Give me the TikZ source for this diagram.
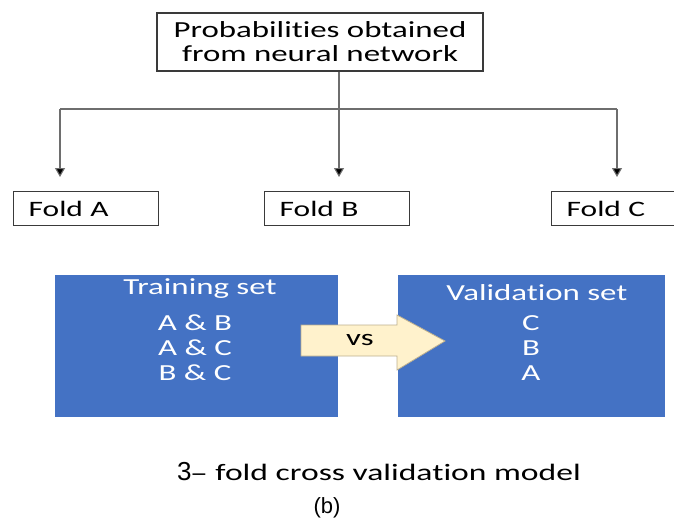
\documentclass[tikz,border=0pt]{standalone}
\usepackage{fontspec}
\setmainfont[FakeStretch=1.43,Ligatures={NoCommon}]{Carlito}
\newfontfamily\arialf{Liberation Sans}
\usetikzlibrary{arrows.meta}
\definecolor{officeblue}{HTML}{4472C4}
\definecolor{arrowfill}{HTML}{FFF2CC}
\definecolor{arrowline}{HTML}{BDB08E}
\definecolor{linegray}{HTML}{6E6E6E}
\definecolor{boxline}{HTML}{3A3A3A}
\begin{document}
\begin{tikzpicture}[x=1pt,y=-1pt,
  fs/.style={font=\fontsize{#1}{#1}\selectfont},
  topbox/.style={draw=boxline, line width=1.3pt, minimum width=326pt, minimum height=58pt, inner sep=0pt, align=center, font=\fontsize{23}{24}\selectfont},
  foldbox/.style={draw=boxline, line width=1.3pt, anchor=north west, minimum width=145pt, minimum height=34pt, text width=115pt, inner xsep=15pt, inner ysep=0pt, align=left, fs=22},
  bluebox/.style={fill=officeblue, draw=none, minimum height=142pt, inner sep=0pt},
  wtext/.style={text=white, fs=23, inner sep=0pt},
  conn/.style={draw=linegray, line width=1.1pt},
  down/.style={conn, -{Triangle[length=9pt,width=10pt,fill=black]}}
]
\useasboundingbox (0,0) rectangle (674,525);
\clip (0,0) rectangle (674,525);

% top box
\node[topbox] (top) at (320,42) {Probabilities obtained\\ from neural network};

% connectors
\coordinate (j) at (339,109);
\coordinate (ja) at (60,109);
\coordinate (jc) at (617,109);
\coordinate (ta) at (60,177);
\coordinate (tb) at (339,177);
\coordinate (tc) at (617,177);
\draw[conn] (top.south -| j) -- (j);
\draw[conn] (ja) -- (jc);
\draw[down] (ja) -- (ta);
\draw[down] (j) -- (tb);
\draw[down] (jc) -- (tc);

% folds
\node[foldbox] (fa) at (13,191) {Fold A};
\node[foldbox] (fb) at (264,191) {Fold B};
\node[foldbox] (fc) at (551,191) {Fold C};

% blue boxes
\node[bluebox, minimum width=283pt] (train) at (196.5,346) {};
\node[bluebox, minimum width=267pt] (valid) at (531.5,346) {};

\node[wtext] (tt) at (200,289) {Training set};
\node[wtext] (t1) at (195,323) {A \& B};
\node[wtext] (t2) at (195,348) {A \& C};
\node[wtext] (t3) at (195,373) {B \& C};

\node[wtext] (vt) at (537,293) {Validation set};
\node[wtext] (v1) at (531,323) {C};
\node[wtext] (v2) at (531,348) {B};
\node[wtext] (v3) at (531,373) {A};

% arrow
\draw[fill=arrowfill, draw=arrowline, line width=0.8pt]
  (301,325) -- (397,325) -- (397,315) -- (445,341) -- (397,370) -- (397,356) -- (301,356) -- cycle;
\node[fs=23, inner sep=0pt] (vs) at (360,340) {vs};

% caption
\node[anchor=base west, inner sep=0pt] (cap) at (177,480) {{\arialf\fontsize{26}{26}\selectfont 3}\hspace{1pt}{\arialf\fontsize{23}{23}\selectfont –}\hspace{10pt}{\fontsize{23.5}{23.5}\selectfont fold cross validation model}};
\node[inner sep=0pt] (b) at (327,508) {\arialf\fontsize{22}{22}\selectfont (b)};
\end{tikzpicture}
\end{document}
